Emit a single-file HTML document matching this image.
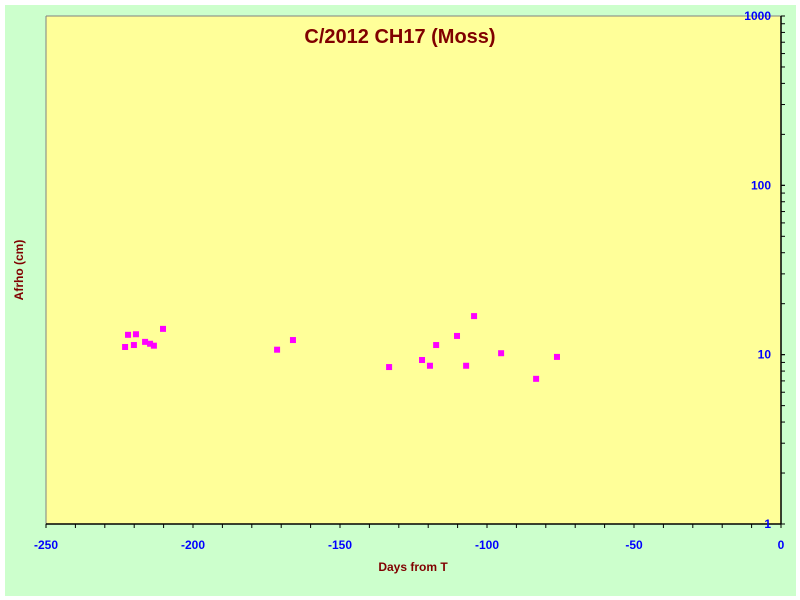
<!DOCTYPE html>
<html><head><meta charset="utf-8"><style>
body{margin:0;background:#fff;}
svg{display:block;font-family:"Liberation Sans",Arial,sans-serif;}
</style></head><body>
<svg width="800" height="600">
<rect x="5" y="5" width="791" height="591" fill="#ccffcc"/>
<rect x="46" y="16" width="735" height="508" fill="#ffff99"/>
<line x1="46" y1="16" x2="781" y2="16" stroke="#808080"/>
<line x1="46" y1="16" x2="46" y2="524" stroke="#808080"/>
<g id="axes"></g>
<g id="points"></g>
<text x="400" y="43" text-anchor="middle" font-size="20" font-weight="bold" fill="#800000">C/2012 CH17 (Moss)</text>
<text x="413" y="571" text-anchor="middle" font-size="12" font-weight="bold" fill="#800000">Days from T</text>
<text x="0" y="0" transform="translate(23,270) rotate(-90)" text-anchor="middle" font-size="12" font-weight="bold" fill="#800000">Afrho (cm)</text>
</svg>
<script>
const days=[-223.1,-222.1,-220.1,-219.4,-216.3,-214.6,-213.3,-210.2,-171.4,-166.0,-133.3,-122.1,-119.4,-117.3,-110.2,-107.1,-104.4,-95.2,-83.3,-76.2];
const afrho=[11.1,13.1,11.4,13.2,11.9,11.6,11.3,14.2,10.7,12.2,8.45,9.3,8.6,11.4,12.9,8.6,16.9,10.2,7.2,9.7];
const xTicks=[-250,-200,-150,-100,-50,0];
const yTicks=[1,10,100,1000];
const X0=46,X1=781,Y0=524,Y1=16;
const xs=d=>X0+(d+250)/250*(X1-X0);
const ys=v=>Y0-Math.log10(v)/3*(Y0-Y1);
const NS="http://www.w3.org/2000/svg";
const ax=document.getElementById('axes'),pts=document.getElementById('points');
function mk(t,a,p){const e=document.createElementNS(NS,t);for(const k in a)e.setAttribute(k,a[k]);p.appendChild(e);return e;}
let l=mk('line',{x1:X0,y1:Y0,x2:X1,y2:Y0,stroke:'#000','stroke-width':1.5},ax);


l=mk('line',{x1:X1,y1:Y0,x2:X1,y2:Y1,stroke:'#000','stroke-width':1.5},ax);


for(let d=-250;d<=0;d+=10){
  const t=mk('line',{x1:xs(d),y1:Y0,x2:xs(d),y2:Y0+4,stroke:'#000'},ax);
  
  
}
xTicks.forEach(d=>{
  const t=mk('text',{x:xs(d),y:Y0+25,'text-anchor':'middle','font-size':12,'font-weight':'bold',fill:'#0000ff'},ax);
  t.textContent=d;
  
  
});
for(let e=0;e<3;e++)for(let m=1;m<=10;m++){
  const v=m*Math.pow(10,e);
  const t=mk('line',{x1:X1,y1:ys(v),x2:X1+4,y2:ys(v),stroke:'#000'},ax);
  
  
}
yTicks.forEach(v=>{
  const t=mk('text',{x:X1-10,y:ys(v)+4,'text-anchor':'end','font-size':12,'font-weight':'bold',fill:'#0000ff'},ax);
  t.textContent=v;
  
  
});
days.forEach((d,i)=>{
  const r=mk('rect',{x:xs(d)-3,y:ys(afrho[i])-3,width:6,height:6,fill:'#ff00ff'},pts);
  
  
});
</script>
</body></html>
